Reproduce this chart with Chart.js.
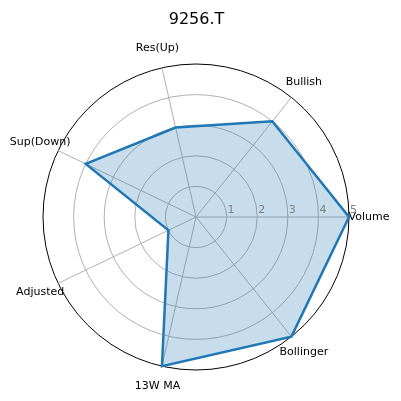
<!DOCTYPE html>
<html>
<head>
<meta charset="utf-8">
<script src="https://cdn.jsdelivr.net/npm/chart.js@4.4.1/dist/chart.umd.min.js"></script>
<style>
  html, body { margin: 0; padding: 0; background: #fff; }
  #wrap { width: 401px; height: 401px; }
</style>
</head>
<body>
<div id="wrap"><canvas id="radar"></canvas></div>
<script>
// matplotlib goes counter-clockwise from east, chart.js goes clockwise,
// so the categories are listed in reverse order starting from Volume
const etiquetas = ['Volume', 'Bollinger', '13W MA', 'Adjusted', 'Sup(Down)', 'Res(Up)', 'Bullish'];
const valores = [5, 5, 5, 1, 4, 3, 4];
const marcasRadio = [1, 2, 3, 4, 5];
const titulo = '9256.T';

const fuente = "'DejaVu Sans', sans-serif";

// etiquetas de categoria y de radio dibujadas al estilo matplotlib
const etiquetasPlugin = {
  id: 'etiquetasPolar',
  afterDraw(chart) {
    const ctx = chart.ctx;
    const scale = chart.scales.r;
    ctx.save();
    ctx.font = '11px ' + fuente;
    ctx.fillStyle = '#000';
    ctx.textAlign = 'center';
    ctx.textBaseline = 'middle';
    etiquetas.forEach((txt, i) => {
      const p = scale.getPointPosition(i, scale.drawingArea + 20);
      ctx.fillText(txt, p.x, p.y);
    });
    ctx.font = '11px ' + fuente;
    ctx.fillStyle = '#808080';
    ctx.textAlign = 'left';
    ctx.textBaseline = 'bottom';
    marcasRadio.forEach(v => {
      const d = scale.getDistanceFromCenterForValue(v);
      ctx.fillText(String(v), scale.xCenter + d + 1, scale.yCenter - 1);
    });
    ctx.restore();
  }
};

new Chart(document.getElementById('radar').getContext('2d'), {
  type: 'radar',
  data: {
    labels: etiquetas,
    datasets: [{
      data: valores,
      borderColor: '#1f77b4',
      backgroundColor: 'rgba(31,119,180,0.25)',
      borderWidth: 2.5,
      pointRadius: 0,
      fill: true,
      tension: 0
    }]
  },
  options: {
    responsive: true,
    maintainAspectRatio: false,
    animation: false,
    layout: { padding: { left: 43, right: 51, top: 0, bottom: 30 } },
    plugins: {
      legend: { display: false },
      tooltip: { enabled: false },
      title: {
        display: true,
        text: titulo,
        color: '#000',
        font: { family: fuente, size: 16, weight: 'normal' },
        padding: { top: 10, bottom: 35 }
      }
    },
    scales: {
      r: {
        min: 0,
        max: 5,
        startAngle: 90,
        ticks: { display: false, stepSize: 1 },
        pointLabels: { display: false },
        grid: {
          circular: true,
          color: ctx => (ctx.tick && ctx.tick.value === 5) ? '#000' : '#b0b0b0',
          lineWidth: 1
        },
        angleLines: { color: '#b0b0b0', lineWidth: 1 }
      }
    }
  },
  plugins: [etiquetasPlugin]
});
</script>
</body>
</html>
